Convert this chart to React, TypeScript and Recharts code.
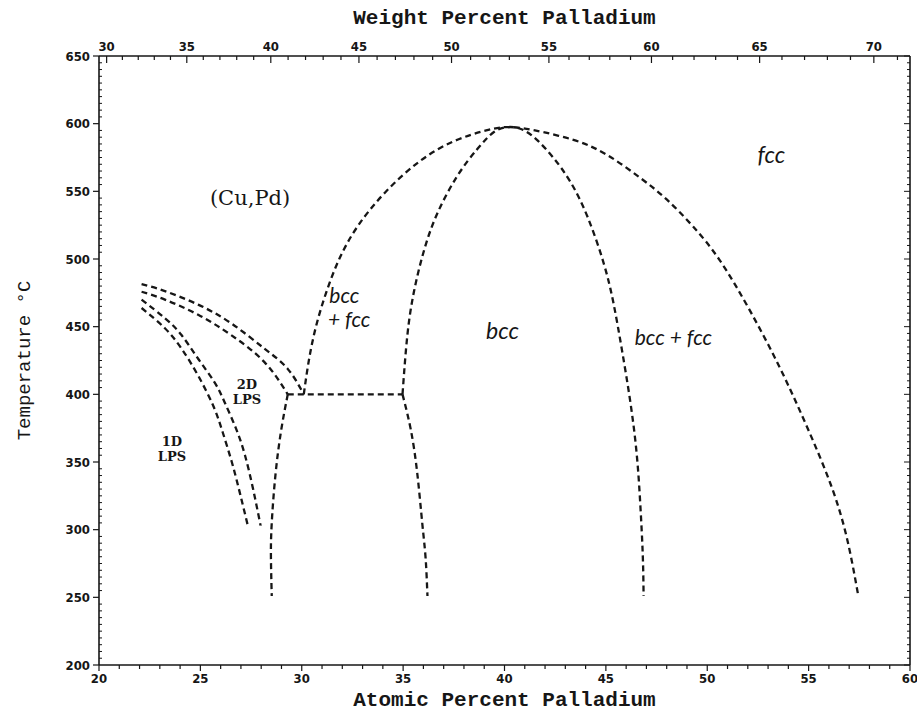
import { LineChart, Line, XAxis, YAxis, ReferenceDot, Label } from 'recharts';

// Cu–Pd phase boundaries: [atomic % Pd, temperature °C]
const lps2dOuter = [[22.1, 481.5], [23.25, 476.3], [24.89, 466.3], [26.52, 452.5], [28.16, 433.8], [29.31, 418.8], [30.1, 400]];
const lps2dInner = [[22.1, 475.8], [23.25, 470], [24.89, 458.8], [26.52, 443.8], [28.16, 423.8], [29.31, 400]];
const lps1dOuter = [[22.1, 470], [23.25, 456.3], [24.07, 443.8], [24.89, 426.3], [25.7, 408.8], [26.2, 394], [26.75, 375], [27.2, 355], [27.6, 330], [27.97, 303]];
const lps1dInner = [[22.1, 463.8], [23.25, 448.8], [24.07, 433.8], [24.89, 413.8], [25.65, 391], [26.1, 372], [26.55, 350], [26.95, 327], [27.34, 303]];
const fccLow = [[29.31, 400], [28.98, 373], [28.7, 340], [28.52, 305], [28.48, 280], [28.52, 251]];
const tie400 = [[29.31, 400], [34.97, 400]];
const bccLow = [[34.97, 400], [35.38, 373.8], [35.7, 341.3], [35.95, 303.8], [36.11, 278.8], [36.2, 251]];
const outerDome = [
  [30.1, 400], [30.35, 425], [30.7, 450], [31.2, 475], [31.85, 500], [32.75, 524], [34.1, 549], [35.8, 572],
  [37.5, 587], [39.1, 595], [40.2, 597.5], [41.5, 595], [43.4, 588], [45.05, 577], [46.69, 560], [48.0, 544],
  [49.3, 524], [50.62, 499], [52.1, 462], [53.57, 420], [54.89, 377], [56.1, 333], [56.9, 293], [57.45, 251],
];
const innerDome = [
  [34.97, 400], [35.21, 443.8], [35.54, 476.3], [36.03, 506.3], [36.69, 533.8], [37.67, 561.3], [38.66, 581.3],
  [39.48, 593.8], [40.2, 597.5], [40.9, 595.5], [41.6, 588], [42.4, 575], [43.25, 557], [44.1, 531], [44.89, 497],
  [45.38, 467], [45.79, 433], [46.2, 395], [46.52, 356], [46.7, 318], [46.82, 281], [46.86, 251],
];

const curves = [
  { key: 'lps2dOuter', pts: lps2dOuter, type: 'natural' },
  { key: 'lps2dInner', pts: lps2dInner, type: 'natural' },
  { key: 'lps1dOuter', pts: lps1dOuter, type: 'natural' },
  { key: 'lps1dInner', pts: lps1dInner, type: 'natural' },
  { key: 'fccLow', pts: fccLow, type: 'natural' },
  { key: 'tie400', pts: tie400, type: 'linear' },
  { key: 'bccLow', pts: bccLow, type: 'natural' },
  { key: 'outerDome', pts: outerDome, type: 'natural' },
  { key: 'innerDome', pts: innerDome, type: 'natural' },
];

// axis ticks
const atMajor = [20, 25, 30, 35, 40, 45, 50, 55, 60];
const tempMajor = [200, 250, 300, 350, 400, 450, 500, 550, 600, 650];
const wtMajor = [30, 35, 40, 45, 50, 55, 60, 65, 70];

// region labels: [text, at%, °C, kind]
const regionLabels: [string, number, number, string][] = [
  ['(Cu,Pd)', 27.45, 545, 'serif'],
  ['2D', 27.3, 407.5, 'serifBold'],
  ['LPS', 27.3, 396.3, 'serifBold'],
  ['1D', 23.6, 365.5, 'serifBold'],
  ['LPS', 23.6, 354.3, 'serifBold'],
  ['bcc', 32.1, 473.8, 'italic'],
  ['+ fcc', 32.34, 456.3, 'italic'],
  ['bcc', 39.9, 447.5, 'italicBig'],
  ['bcc + fcc', 48.33, 442.5, 'italic'],
  ['fcc', 53.16, 577.5, 'italicBig'],
];

const M_PD = 106.42;
const M_CU = 63.546;
const wtToAt = (w: number) => (100 * (w / M_PD)) / (w / M_PD + (100 - w) / M_CU);
const atToWt = (a: number) => (100 * a * M_PD) / (a * M_PD + (100 - a) * M_CU);

const INK = '#161616';
const tickFont = { fontFamily: "'DejaVu Sans Condensed', 'DejaVu Sans', sans-serif", fontStretch: 'condensed', fontWeight: 700, fontSize: 13 };
const titleFont = { fontFamily: "'Liberation Mono', 'DejaVu Sans Mono', monospace", fontSize: 21, fontWeight: 700, fill: INK };

const atTicks = Array.from({ length: 41 }, (_, i) => 20 + i);
const tempTicks = Array.from({ length: 91 }, (_, i) => 200 + i * 5);
const wtTicks = Array.from({ length: 42 }, (_, i) => wtToAt(30 + i)).filter((a) => a <= 60);

const labelStyle: Record<string, any> = {
  serif: { fontFamily: "'DejaVu Serif', serif", fontSize: 21 },
  serifBold: { fontFamily: "'DejaVu Serif', serif", fontSize: 13, fontWeight: 700 },
  italic: { fontFamily: "Lato, 'Open Sans', sans-serif", fontStyle: 'italic', fontSize: 21 },
  italicBig: { fontFamily: "Lato, 'Open Sans', sans-serif", fontStyle: 'italic', fontSize: 23 },
};

function BottomTick({ x, y, payload }: any) {
  const major = atMajor.includes(payload.value);
  return (
    <g>
      <line x1={x} x2={x} y1={y} y2={y + (major ? 6 : 4)} stroke={INK} strokeWidth={1.2} />
      {major && (
        <text x={x} y={y + 13} textAnchor="middle" dominantBaseline="central" fill={INK} style={tickFont}>
          {payload.value}
        </text>
      )}
    </g>
  );
}

function TopTick({ x, y, payload }: any) {
  const w = Math.round(atToWt(payload.value));
  const major = wtMajor.includes(w);
  return (
    <g>
      <line x1={x} x2={x} y1={y} y2={y + (major ? 7 : 4)} stroke={INK} strokeWidth={1.2} />
      {major && (
        <text x={x} y={y - 10} textAnchor="middle" dominantBaseline="central" fill={INK} style={tickFont}>
          {w}
        </text>
      )}
    </g>
  );
}

function LeftTick({ x, y, payload }: any) {
  const major = tempMajor.includes(payload.value);
  return (
    <g>
      {major ? (
        <line x1={x - 6} x2={x} y1={y} y2={y} stroke={INK} strokeWidth={1.2} />
      ) : (
        <line x1={x} x2={x + 3} y1={y} y2={y} stroke={INK} strokeWidth={1} />
      )}
      {major && (
        <text x={x - 9} y={y} textAnchor="end" dominantBaseline="central" fill={INK} style={tickFont}>
          {payload.value}
        </text>
      )}
    </g>
  );
}

function RightTick({ x, y, payload }: any) {
  const major = tempMajor.includes(payload.value);
  return <line x1={x} x2={x - (major ? 6 : 3)} y1={y} y2={y} stroke={INK} strokeWidth={1} />;
}

export default function App() {
  const toPts = (arr: number[][]) => arr.map(([x, t]) => ({ x, t }));
  return (
    <div style={{ position: 'absolute', left: 0, top: 0, background: '#fff' }}>
      <LineChart width={917} height={710} margin={{ top: 26, right: 6, bottom: 15, left: 39 }}>
        <XAxis
          xAxisId="at"
          type="number"
          dataKey="x"
          domain={[20, 60]}
          ticks={atTicks}
          interval={0}
          tickSize={0}
          tickMargin={0}
          tick={BottomTick}
          axisLine={{ stroke: INK, strokeWidth: 1.6 }}
          height={30}
          allowDataOverflow
        >
          <Label
            content={({ viewBox }: any) => (
              <text x={viewBox.x + viewBox.width / 2} y={viewBox.y + viewBox.height + 5} textAnchor="middle" dominantBaseline="central" style={titleFont}>
                Atomic Percent Palladium
              </text>
            )}
          />
        </XAxis>
        <XAxis
          xAxisId="wt"
          orientation="top"
          type="number"
          dataKey="x"
          domain={[20, 60]}
          ticks={wtTicks}
          interval={0}
          tickSize={0}
          tickMargin={0}
          tick={TopTick}
          axisLine={{ stroke: INK, strokeWidth: 1.6 }}
          height={30}
          allowDataOverflow
        >
          <Label
            content={({ viewBox }: any) => (
              <text x={viewBox.x + viewBox.width / 2} y={viewBox.y - 8} textAnchor="middle" dominantBaseline="central" style={titleFont}>
                Weight Percent Palladium
              </text>
            )}
          />
        </XAxis>
        <YAxis
          yAxisId="t"
          type="number"
          domain={[200, 650]}
          ticks={tempTicks}
          interval={0}
          tickSize={0}
          tickMargin={0}
          tick={LeftTick}
          axisLine={{ stroke: INK, strokeWidth: 1.6 }}
          width={60}
          allowDataOverflow
        >
          <Label
            content={({ viewBox }: any) => {
              const cx = viewBox.x - 14;
              const cy = viewBox.y + viewBox.height / 2;
              return (
                <text
                  x={cx}
                  y={cy}
                  transform={`rotate(-90 ${cx} ${cy})`}
                  textAnchor="middle"
                  dominantBaseline="central"
                  style={{ ...titleFont, fontWeight: 400, fontSize: 19 }}
                >
                  Temperature °C
                </text>
              );
            }}
          />
        </YAxis>
        <YAxis
          yAxisId="r"
          orientation="right"
          type="number"
          domain={[200, 650]}
          ticks={tempTicks}
          interval={0}
          tickSize={0}
          tickMargin={0}
          tick={RightTick}
          axisLine={{ stroke: INK, strokeWidth: 1.6 }}
          width={1}
          allowDataOverflow
        />
        {curves.map((c) => (
          <Line
            key={c.key}
            xAxisId="at"
            yAxisId="t"
            data={toPts(c.pts)}
            dataKey="t"
            type={c.type as any}
            stroke={INK}
            strokeWidth={2.3}
            strokeDasharray="6 4"
            dot={false}
            activeDot={false}
            isAnimationActive={false}
          />
        ))}
        {regionLabels.map(([text, x, t, kind], i) => (
          <ReferenceDot key={i} xAxisId="at" yAxisId="t" x={x} y={t} r={0} fill="none" stroke="none">
            <Label
              content={({ viewBox }: any) => (
                <text
                  x={viewBox.x + (viewBox.width || 0) / 2}
                  y={viewBox.y + (viewBox.height || 0) / 2}
                  textAnchor="middle"
                  dominantBaseline="central"
                  fill={INK}
                  style={labelStyle[kind]}
                >
                  {text}
                </text>
              )}
            />
          </ReferenceDot>
        ))}
      </LineChart>
    </div>
  );
}
